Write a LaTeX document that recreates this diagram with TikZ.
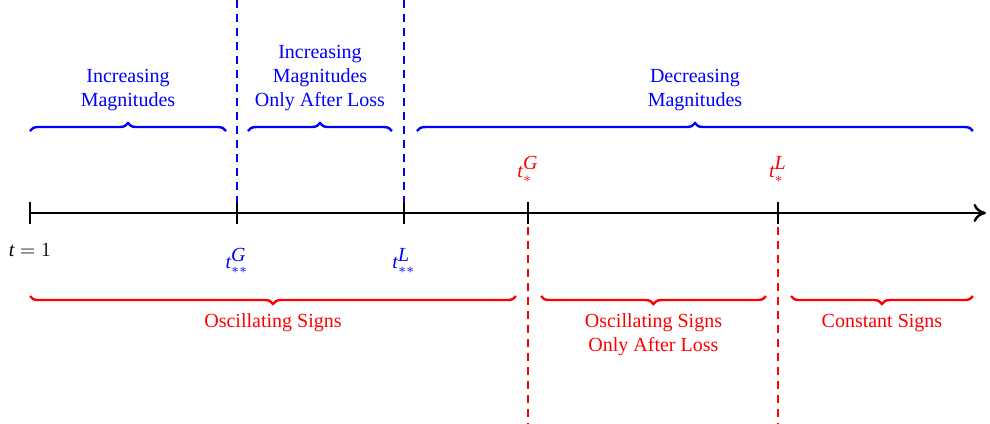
\documentclass[tikz,border=0pt]{standalone}
\usepackage{fontspec}
\setmainfont{Liberation Serif}
\usepackage{xcolor}
\usepackage{tikz}
\usetikzlibrary{arrows.meta,positioning,decorations.pathreplacing}

\newcommand{\tv}{\textit{t}}

\begin{document}
\begin{tikzpicture}[
  x=1cm, y=1cm,
  axis/.style={very thick, -{To[length=2.2mm,width=3.2mm]}},
  tick/.style={very thick},
  gline/.style={blue, thick, dash pattern=on 4pt off 3pt},
  lline/.style={red, thick, dash pattern=on 4pt off 3pt},
  upbrace/.style={blue, very thick, decorate, decoration={brace, amplitude=4pt}},
  downbrace/.style={red, very thick, decorate, decoration={brace, amplitude=4pt, mirror}},
  glabel/.style={blue, align=center},
  llabel/.style={red, align=center}
]
\useasboundingbox (0,-3.708) rectangle (17.40,3.743);

% points on the time axis
\coordinate (p0) at (0.527, 0);
\coordinate (pg2) at (4.165, 0);
\coordinate (pl2) at (7.100, 0);
\coordinate (pg1) at (9.279, 0);
\coordinate (pl1) at (13.673, 0);
\coordinate (pend) at (17.33, 0);

\coordinate (gtop) at (4.165, 3.743);
\coordinate (ltop) at (7.100, 3.743);
\coordinate (gbot) at (9.279, -3.708);
\coordinate (lbot) at (13.673, -3.708);

% dashed markers
\draw[gline] (gtop) -- (pg2);
\draw[gline] (ltop) -- (pl2);
\draw[lline] (pg1) -- (gbot);
\draw[lline] (pl1) -- (lbot);

% axis and ticks
\draw[axis] (p0) -- (pend);
\foreach \p in {p0, pg2, pl2, pg1, pl1}
  \draw[tick] ([yshift=-0.19cm]\p) -- ([yshift=0.19cm]\p);

\node[below=0.42cm of p0] (t1) {$\tv=1$};
\node[blue, below=0.5cm of pg2] (tg2) {$\tv_{**}^{\textit{G}}$};
\node[blue, below=0.5cm of pl2] (tl2) {$\tv_{**}^{\textit{L}}$};
\node[red, above=0.42cm of pg1] (tg1) {$\tv_{*}^{\textit{G}}$};
\node[red, above=0.42cm of pl1] (tl1) {$\tv_{*}^{\textit{L}}$};

% magnitudes
\coordinate (m1a) at (0.527, 1.44);
\coordinate (m1b) at (3.972, 1.44);
\coordinate (m2a) at (4.358, 1.44);
\coordinate (m2b) at (6.889, 1.44);
\coordinate (m3a) at (7.329, 1.44);
\coordinate (m3b) at (17.100, 1.44);

\draw[upbrace] (m1a) -- node[glabel, above=6pt] (inc) {Increasing\\Magnitudes} (m1b);
\draw[upbrace] (m2a) -- node[glabel, above=6pt] (incl) {Increasing\\Magnitudes\\Only After Loss} (m2b);
\draw[upbrace] (m3a) -- node[glabel, above=6pt] (dec) {Decreasing\\Magnitudes} (m3b);

% signs
\coordinate (s1a) at (0.527, -1.46);
\coordinate (s1b) at (9.069, -1.46);
\coordinate (s2a) at (9.508, -1.46);
\coordinate (s2b) at (13.462, -1.46);
\coordinate (s3a) at (13.902, -1.46);
\coordinate (s3b) at (17.100, -1.46);

\draw[downbrace] (s1a) -- node[llabel, below=5pt] (osc) {Oscillating Signs} (s1b);
\draw[downbrace] (s2a) -- node[llabel, below=5pt] (oscl) {Oscillating Signs\\Only After Loss} (s2b);
\draw[downbrace] (s3a) -- node[llabel, below=5pt] (const) {Constant Signs} (s3b);
\end{tikzpicture}
\end{document}
